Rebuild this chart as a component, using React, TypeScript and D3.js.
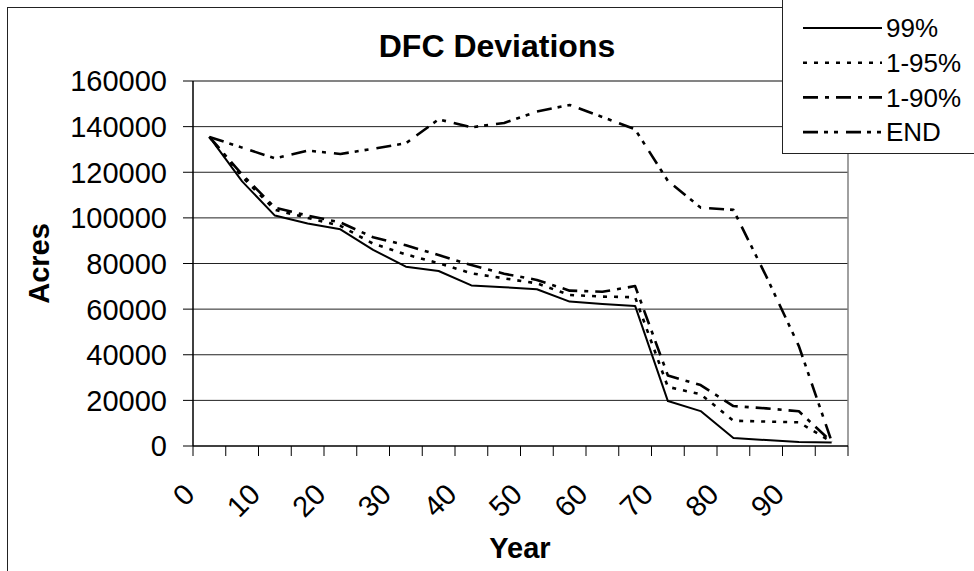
import React from "react";
import * as d3 from "d3";

const years = [0, 5, 10, 15, 20, 25, 30, 35, 40, 45, 50, 55, 60, 65, 70, 75, 80, 85, 90, 95];
const yTicks = [0, 20000, 40000, 60000, 80000, 100000, 120000, 140000, 160000];
const series99 = [135500, 116000, 101000, 97500, 95000, 86000, 78600, 76700, 70400, 69600, 68700, 63300, 62300, 61400, 19700, 15300, 3500, 2600, 1700, 1500];
const series195 = [135500, 118000, 103500, 100000, 96500, 88700, 84000, 80100, 75700, 73500, 71300, 66200, 65500, 65200, 25900, 22700, 11100, 10700, 10400, 1800];
const series190 = [135500, 119000, 104500, 101000, 98000, 91500, 88000, 83700, 79300, 75500, 72800, 68100, 67600, 70100, 30900, 26700, 17500, 16500, 15200, 1800];
const seriesEND = [135500, 130800, 126100, 129500, 128000, 130300, 132700, 143200, 139700, 141600, 146600, 149500, 144200, 138800, 116200, 104500, 103500, 74500, 43800, 2000];

const seriesNames = ["99%", "1-95%", "1-90%", "END"];
const seriesData = [series99, series195, series190, seriesEND];
const dashes = ["none", "4 7", "15 7 4 7", "15 6 4 6 4 8"];
const widths = [2, 2.6, 2.6, 2.6];

const FONT = "'Liberation Sans', Arial, sans-serif";

export default function App() {
  const left = 193, right = 848, top = 81, bottom = 446;
  const x = d3.scaleBand<number>().domain(years).range([left, right]);
  const y = d3.scaleLinear().domain([0, 160000]).range([bottom, top]);
  const cx = (yr: number) => (x(yr) as number) + x.bandwidth() / 2;
  const line = d3
    .line<number>()
    .x((_, i) => cx(years[i]))
    .y((v) => y(v));

  const boundaries = years.map((yr) => x(yr) as number).concat([right]);

  return (
    <svg
      width={974}
      height={571}
      style={{ position: "absolute", left: 0, top: 0, background: "#fff" }}
      fontFamily={FONT}
    >
      <rect x={0} y={0} width={974} height={571} fill="#fff" />
      {/* chart area border */}
      <rect x={7.5} y={7.5} width={1000} height={600} fill="none" stroke="#222" strokeWidth={1} />

      {/* gridlines */}
      {yTicks.slice(1).map((t) => (
        <line key={t} x1={left} x2={right} y1={y(t)} y2={y(t)} stroke="#222" strokeWidth={1} />
      ))}
      {/* plot area border right */}
      <line x1={right} x2={right} y1={top} y2={bottom} stroke="#808080" strokeWidth={1.5} />
      <line x1={left} x2={right} y1={top} y2={top} stroke="#808080" strokeWidth={1.5} />

      {/* axes */}
      <line x1={left} x2={left} y1={top} y2={bottom} stroke="#000" strokeWidth={1.5} />
      <line x1={left} x2={right} y1={bottom} y2={bottom} stroke="#000" strokeWidth={1.5} />
      {yTicks.map((t) => (
        <g key={t}>
          <line x1={left - 10} x2={left} y1={y(t)} y2={y(t)} stroke="#000" strokeWidth={1} />
          <text x={167} y={y(t)} dy="0.36em" textAnchor="end" fontSize={29} fill="#000">
            {t}
          </text>
        </g>
      ))}
      {boundaries.map((b, i) => (
        <line key={i} x1={b} x2={b} y1={bottom} y2={bottom + 10} stroke="#000" strokeWidth={1} />
      ))}
      {years.map((yr, i) =>
        i % 2 === 0 ? (
          <text
            key={yr}
            transform={`translate(${cx(yr) - 13},${496}) rotate(-45)`}
            textAnchor="end"
            fontSize={29}
            fill="#000"
          >
            {yr}
          </text>
        ) : null
      )}

      {/* series */}
      {seriesData.map((s, i) => (
        <path
          key={i}
          d={line(s) as string}
          fill="none"
          stroke="#000"
          strokeWidth={widths[i]}
          strokeDasharray={dashes[i]}
          strokeLinejoin="round"
        />
      ))}

      {/* titles */}
      <text x={497} y={57} textAnchor="middle" fontSize={32} fontWeight="bold" fill="#000">
        DFC Deviations
      </text>
      <text x={520} y={558} textAnchor="middle" fontSize={29} fontWeight="bold" fill="#000">
        Year
      </text>
      <text
        transform={`translate(48.5,${(top + bottom) / 2}) rotate(-90)`}
        textAnchor="middle"
        fontSize={29}
        fontWeight="bold"
        fill="#000"
      >
        Acres
      </text>

      {/* legend */}
      <rect x={782.5} y={-2} width={200} height={155.5} fill="#fff" stroke="#222" strokeWidth={1} />
      {seriesNames.map((n, i) => {
        const ry = 28 + i * 34.7;
        return (
          <g key={n}>
            <line
              x1={803}
              x2={882}
              y1={ry}
              y2={ry}
              stroke="#000"
              strokeWidth={widths[i]}
              strokeDasharray={dashes[i]}
            />
            <text x={886} y={ry} dy="0.36em" fontSize={26} fill="#000">
              {n}
            </text>
          </g>
        );
      })}
    </svg>
  );
}
